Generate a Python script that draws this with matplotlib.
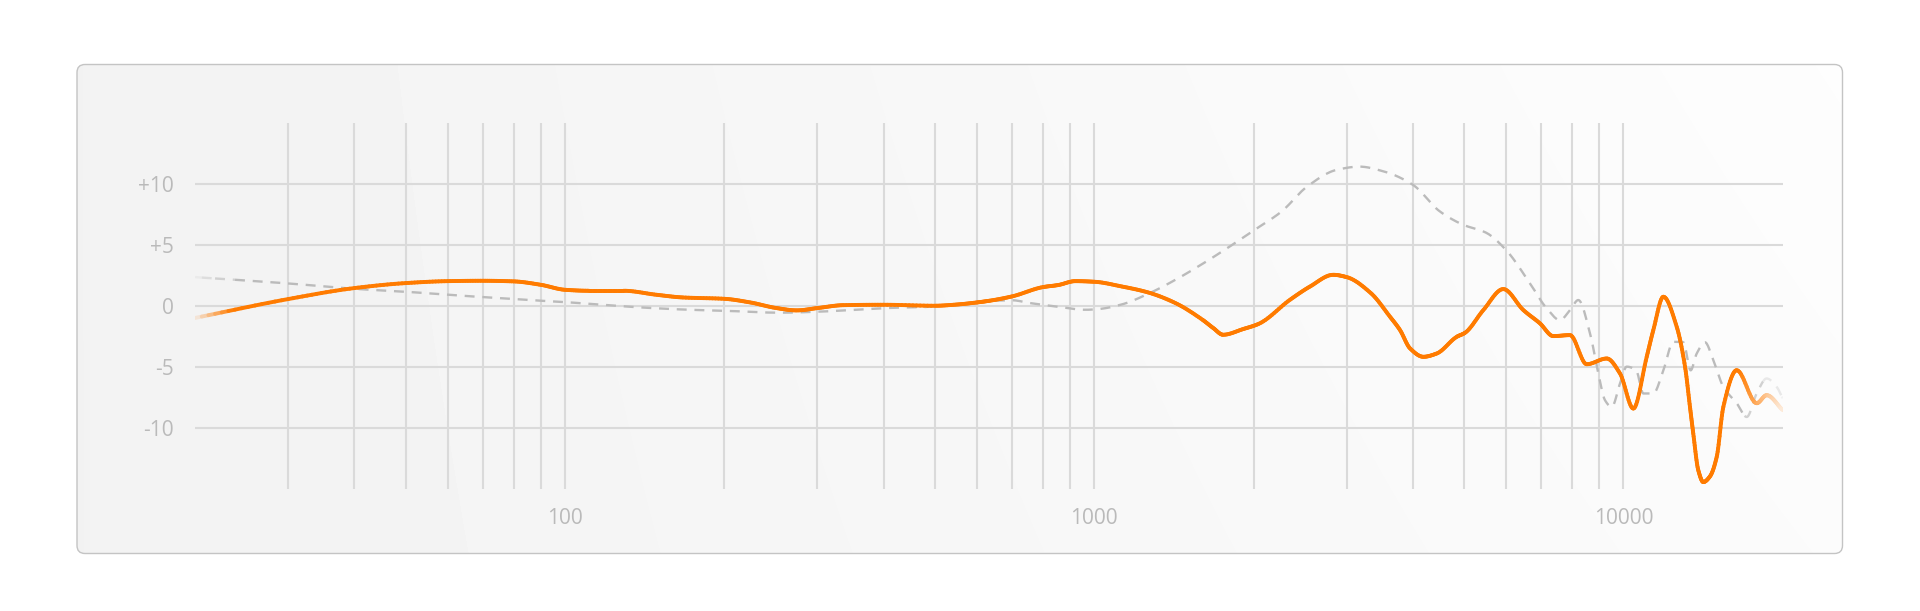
import numpy as np
import matplotlib
matplotlib.use("Agg")
import matplotlib.pyplot as plt
from matplotlib.collections import LineCollection
from matplotlib.patches import FancyBboxPatch
from matplotlib.colors import to_rgb
from matplotlib.ticker import NullLocator

# measured response (orange), Hz / dB
freq_meas = [20, 30, 40, 50, 60, 70, 80, 90, 100, 111, 129, 149, 167, 200, 224,
             251, 274, 300, 336, 400, 500, 550, 600, 636, 700, 800, 855, 921,
             1000, 1128, 1265, 1424, 1602, 1680, 1752, 1913, 2047, 2344, 2558,
             2829, 3000, 3332, 3622, 3784, 3952, 4188, 4438, 4842, 5020, 5438,
             5930, 6469, 6957, 7370, 7928, 8524, 9300, 9854, 10443, 11068,
             11390, 11900, 12612, 13076, 13360, 13554, 13852, 14158, 14578,
             15010, 15448, 16372, 17862, 18650, 20000]
db_meas = [-1.0, 0.55, 1.45, 1.86, 2.02, 2.05, 2.0, 1.72, 1.31, 1.23, 1.23, 0.9,
           0.68, 0.57, 0.27, -0.19, -0.38, -0.19, 0.05, 0.08, 0.0, 0.1, 0.27,
           0.42, 0.77, 1.53, 1.70, 2.02, 1.97, 1.58, 1.09, 0.22, -1.15, -1.84,
           -2.38, -1.91, -1.48, 0.49, 1.58, 2.54, 2.35, 1.04, -0.9, -2.0, -3.5,
           -4.19, -3.92, -2.55, -2.22, -0.35, 1.37, -0.35, -1.45, -2.49, -2.41,
           -4.8, -4.33, -5.56, -8.44, -4.19, -2.0, 0.74, -1.73, -5.0, -8.3,
           -10.5, -13.5, -14.47, -14.0, -12.4, -8.3, -5.29, -8.0, -7.34, -8.57]

# target curve (grey dashed)
freq_target = [20, 30, 40, 50, 60, 70, 80, 90, 100, 111, 146, 172, 200, 254, 300,
               355, 422, 474, 550, 636, 700, 756, 845, 965, 1020, 1128, 1265,
               1424, 1602, 1803, 2000, 2259, 2525, 2870, 3170, 3540, 4000, 4503,
               4984, 5500, 6000, 6660, 7162, 7588, 7928, 8220, 8648, 8966, 9232,
               9506, 9854, 10146, 10570, 10906, 11390, 11900, 12428, 12980,
               13400, 13758, 14262, 14788, 15448, 16372, 17102, 17862, 18650,
               19482, 20000]
db_target = [2.35, 1.83, 1.39, 1.15, 0.90, 0.71, 0.55, 0.41, 0.30, 0.15, -0.19,
             -0.33, -0.41, -0.57, -0.49, -0.33, -0.16, -0.11, 0.1, 0.4, 0.45,
             0.22, -0.05, -0.33, -0.27, 0.11, 0.98, 2.13, 3.44, 4.86, 6.17,
             7.73, 9.78, 11.15, 11.42, 11.0, 9.93, 7.73, 6.64, 6.0, 4.58, 1.84,
             -0.21, -1.18, -0.35, 0.47, -2.27, -5.56, -7.76, -8.31, -6.38, -5.0,
             -5.29, -7.2, -7.2, -5.29, -2.96, -3.0, -5.3, -3.92, -3.0, -4.47,
             -6.66, -8.0, -9.13, -7.2, -5.97, -6.66, -7.6]

y_ticks = [-10, -5, 0, 5, 10]
y_labels = ["-10", "-5", "0", "+5", "+10"]
x_ticks = [100, 1000, 10000]
x_labels = ["100", "1000", "10000"]
v_grid = [30, 40, 50, 60, 70, 80, 90, 100, 200, 300, 400, 500, 600, 700, 800,
          900, 1000, 2000, 3000, 4000, 5000, 6000, 7000, 8000, 9000, 10000]

ORANGE = "#ff7b00"
DASH = "#bbbbbb"
GRID = "#dadada"
TXT = "#bababa"
plt.rcParams["font.family"] = ["Open Sans", "DejaVu Sans"]

W, H = 1920, 611
fig = plt.figure(figsize=(W / 100, H / 100), dpi=100)
fig.patch.set_facecolor("white")

# card with soft left-to-right gradient
bg = fig.add_axes([0, 0, 1, 1], zorder=0)
bg.set_xlim(0, W); bg.set_ylim(H, 0); bg.axis("off")
card = FancyBboxPatch((77, 64.5), 1765.5, 489, boxstyle="round,pad=0,rounding_size=8",
                      fc="none", ec="#c4c4c4", lw=1.0, zorder=3)
bg.add_patch(card)
yy, xx = np.mgrid[0:1:60j, 0:1:240j]
g = 0.949 + 0.036 * xx + 0.008 * (1 - yy) * xx
im = bg.imshow(g, cmap="gray", vmin=0, vmax=1, extent=(70, 1850, 560, 58),
               aspect="auto", interpolation="bilinear", zorder=1)
im.set_clip_path(card)
bg.set_xlim(0, W); bg.set_ylim(H, 0)

# plot axes
x0, x1, y_top, y_bot = 195.1, 1782.7, 123.0, 488.5
ax = fig.add_axes([x0 / W, 1 - y_bot / H, (x1 - x0) / W, (y_bot - y_top) / H], zorder=1)
ax.patch.set_alpha(0)
ax.set_xscale("log")
ax.set_xlim(20, 20000)
ax.set_ylim(-15, 15)
for s in ax.spines.values():
    s.set_visible(False)
ax.vlines(v_grid, -15, 15, color=GRID, lw=1.5, zorder=1)
ax.hlines(y_ticks, 20, 20000, color=GRID, lw=1.5, zorder=1)

ax.set_yticks(y_ticks, y_labels)
ax.set_xticks(x_ticks, x_labels)
ax.xaxis.set_minor_locator(NullLocator())
ax.tick_params(axis="both", length=0, labelcolor=TXT, labelsize=15)
ax.tick_params(axis="y", pad=15.5)
ax.tick_params(axis="x", pad=14)


def smooth(f, d, n=14):
    """monotone cubic (PCHIP-style) drawing path through the read points, in log-f"""
    x = np.log10(np.asarray(f, float))
    y = np.asarray(d, float)
    h = np.diff(x)
    s = np.diff(y) / h
    m = np.zeros_like(y)
    m[0], m[-1] = s[0], s[-1]
    for k in range(1, len(y) - 1):
        if s[k - 1] * s[k] > 0:
            w1 = 2 * h[k] + h[k - 1]
            w2 = h[k] + 2 * h[k - 1]
            m[k] = (w1 + w2) / (w1 / s[k - 1] + w2 / s[k])
    xs, ys = [], []
    t = np.linspace(0, 1, n, endpoint=False)
    for i in range(len(y) - 1):
        h00 = 2 * t**3 - 3 * t**2 + 1
        h10 = t**3 - 2 * t**2 + t
        h01 = -2 * t**3 + 3 * t**2
        h11 = t**3 - t**2
        xs.append(x[i] + h[i] * t)
        ys.append(h00 * y[i] + h10 * h[i] * m[i] + h01 * y[i + 1] + h11 * h[i] * m[i + 1])
    xs.append([x[-1]]); ys.append([y[-1]])
    return np.concatenate(xs), np.concatenate(ys)


def fade_weight(lf, a_in=0.022, a_out=0.028, floor=0.12):
    u = (lf - np.log10(20)) / 3.0
    w = np.minimum(np.clip(u / a_in, 0, 1), np.clip((1 - u) / a_out, 0, 1))
    return floor + (1 - floor) * w


def blend(color, w, lf):
    u = (lf - np.log10(20)) / 3.0
    back = 0.952 + 0.038 * u
    c = np.array(to_rgb(color))
    return back[:, None] + (c[None, :] - back[:, None]) * w[:, None]


# dashed target, drawn in a few chunks so the ends can fade
lf_t, d_t = smooth(freq_target, db_target)
w_t = fade_weight(lf_t, 0.03, 0.03, 0.15)
cols_t = blend(DASH, w_t, lf_t)
lev = np.round(w_t * 3).astype(int)
start = 0
for i in range(1, len(lev) + 1):
    if i == len(lev) or lev[i] != lev[start]:
        j = min(i + 1, len(lev))
        ax.plot(10 ** lf_t[start:j], d_t[start:j], color=cols_t[(start + j - 1) // 2],
                lw=1.7, dashes=(4.2, 3.3), zorder=2)
        start = i

# measured response with faded ends
lf_m, d_m = smooth(freq_meas, db_meas)
w_m = fade_weight(lf_m)
cols_m = blend(ORANGE, w_m, lf_m)
pts = np.column_stack([10 ** lf_m, d_m])
segs = np.stack([pts[:-1], pts[1:]], axis=1)
lc = LineCollection(segs, colors=cols_m[:-1], linewidths=2.8, capstyle="round",
                    joinstyle="round", zorder=3)
ax.add_collection(lc)

fig.savefig("out.png", dpi=100, facecolor="white")
